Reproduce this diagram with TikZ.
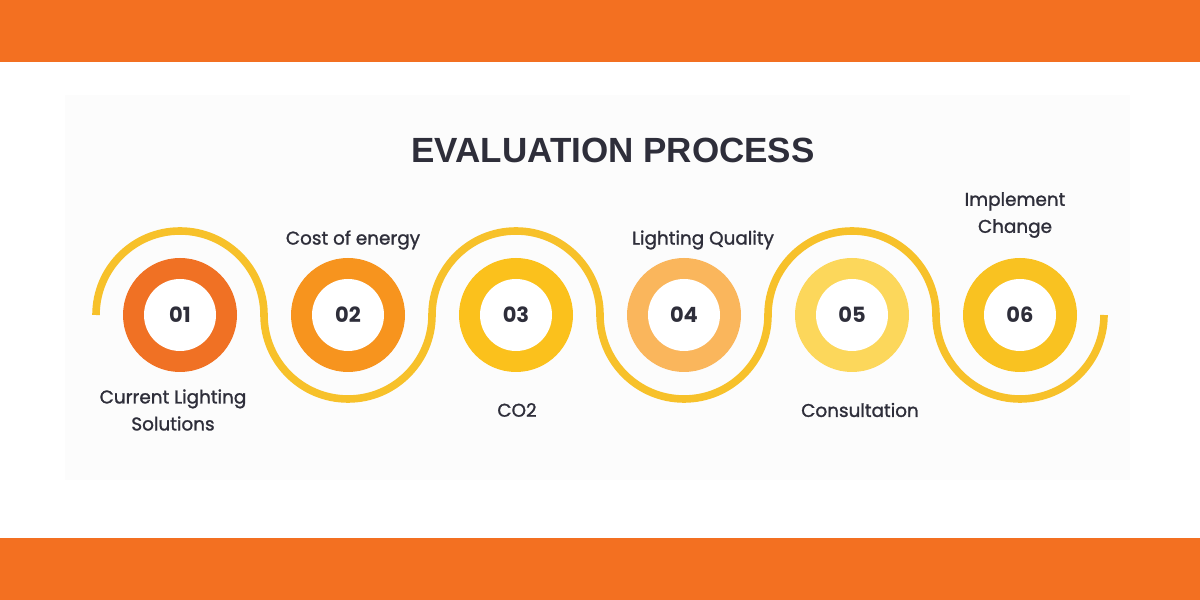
\documentclass[tikz,border=0pt]{standalone}
\usepackage{fontspec}
\setmainfont{Poppins}
\newfontfamily\titlefont{Liberation Sans}
\newfontfamily\lblfont{Poppins}[FakeBold=1.3]
\definecolor{barorange}{HTML}{F37021}
\definecolor{panelgray}{HTML}{FCFCFC}
\definecolor{waveyellow}{HTML}{F7C12A}
\definecolor{textdark}{HTML}{2E2E3A}
\definecolor{ringA}{HTML}{F07124}
\definecolor{ringB}{HTML}{F7941E}
\definecolor{ringC}{HTML}{FBC11C}
\definecolor{ringD}{HTML}{FAB65C}
\definecolor{ringE}{HTML}{FCD75B}
\definecolor{ringF}{HTML}{F9C221}
\tikzset{
  ring/.style={circle, fill=#1, minimum size=57pt, inner sep=0pt},
  hole/.style={circle, fill=white, minimum size=36pt, inner sep=0pt,
    text=textdark, font=\fontsize{10.5}{12}\selectfont\bfseries},
  lbl/.style={align=center, text=textdark, font=\lblfont\fontsize{9.2}{13.5}\selectfont},
  wave/.style={draw=waveyellow, line width=3.8pt}
}
\begin{document}
\begin{tikzpicture}[x=0.5pt,y=0.5pt]
    \useasboundingbox (0,0) rectangle (1200,600);
    \fill [white] (0,0) rectangle (1200,600);
    \fill [panelgray] (65,120) rectangle (1130,505);
    \fill [barorange] (0,538) rectangle (1200,600);
    \fill [barorange] (0,0) rectangle (1200,62);
    \node [text=textdark, font=\titlefont\fontsize{17.5}{20}\selectfont\bfseries] (title) at (613,450) {EVALUATION PROCESS};
    % the wave
    \draw [wave] (96,285) arc (180:0:84) arc (180:360:84) arc (180:0:84)
      arc (180:360:84) arc (180:0:84) arc (180:360:84);
    % rings
    \node [ring=ringA] (r1) at (180,285) {};
    \node [hole] (n1) at (r1) {01};
    \node [ring=ringB] (r2) at (348,285) {};
    \node [hole] (n2) at (r2) {02};
    \node [ring=ringC] (r3) at (516,285) {};
    \node [hole] (n3) at (r3) {03};
    \node [ring=ringD] (r4) at (684,285) {};
    \node [hole] (n4) at (r4) {04};
    \node [ring=ringE] (r5) at (852,285) {};
    \node [hole] (n5) at (r5) {05};
    \node [ring=ringF] (r6) at (1020,285) {};
    \node [hole] (n6) at (r6) {06};
    % labels
    \node [lbl] (l1) at (173,190) {Current Lighting\\Solutions};
    \node [lbl] (l2) at (353,360) {Cost of energy};
    \node [lbl] (l3) at (517,190) {CO2};
    \node [lbl] (l4) at (703,360) {Lighting Quality};
    \node [lbl] (l5) at (860,190) {Consultation};
    \node [lbl] (l6) at (1015,385) {Implement\\Change};
\end{tikzpicture}
\end{document}
